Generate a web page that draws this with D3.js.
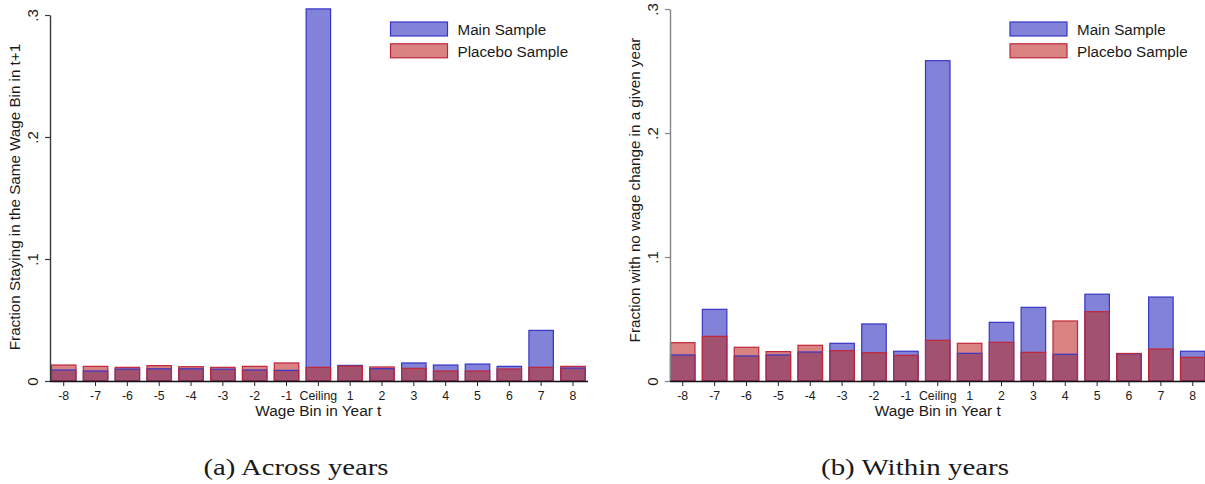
<!DOCTYPE html>
<html>
<head>
<meta charset="utf-8">
<script src="https://cdn.jsdelivr.net/npm/d3@7"></script>
<style>
  html, body { margin: 0; padding: 0; background: #fff; }
  svg { display: block; }
  text { font-family: "Liberation Sans", Arial, sans-serif; fill: #1a1a1a; }
  .caption { font-family: "Liberation Serif", "Times New Roman", serif; }
</style>
</head>
<body>
<svg id="fig" width="1205" height="484"></svg>
<script>
// Wage bins relative to the ceiling
const bins = ["-8", "-7", "-6", "-5", "-4", "-3", "-2", "-1", "Ceiling",
              "1", "2", "3", "4", "5", "6", "7", "8"];

// Panel (a): fraction staying in the same wage bin in t+1
const acrossMain    = [0.0090, 0.0082, 0.0098, 0.0100, 0.0100, 0.0097, 0.0090, 0.0087, 0.305,
                       0.0128, 0.0101, 0.0148, 0.0131, 0.0139, 0.0120, 0.0415, 0.0106];
const acrossPlacebo = [0.0131, 0.0120, 0.0112, 0.0126, 0.0117, 0.0112, 0.0120, 0.0148, 0.0112,
                       0.0122, 0.0115, 0.0104, 0.0082, 0.0082, 0.0098, 0.0112, 0.0120];

// Panel (b): fraction with no wage change in a given year
const withinMain    = [0.0210, 0.0578, 0.0202, 0.0210, 0.0234, 0.0304, 0.0460, 0.0240, 0.2583,
                       0.0223, 0.0473, 0.0594, 0.0215, 0.0700, 0.0220, 0.0677, 0.0240];
const withinPlacebo = [0.0309, 0.0360, 0.0272, 0.0237, 0.0288, 0.0245, 0.0228, 0.0207, 0.0328,
                       0.0304, 0.0312, 0.0231, 0.0484, 0.0559, 0.0222, 0.0258, 0.0191];

const yTicks = [0, 0.1, 0.2, 0.3];
const seriesNames = ["Main Sample", "Placebo Sample"];

// translucent fills: where both bars cover the same area the blend colour is shown
const mainStyle    = { fill: "#8282d8", stroke: "#3636c6" };
const placeboStyle = { fill: "#d88282", stroke: "#c0263a" };
const blendFill    = "#a2516f";

const svg = d3.select("#fig");

function fmtTick(v) {
  return v === 0 ? "0" : d3.format(".1f")(v).replace(/^0/, "");
}

function panel(opts) {
  const g = svg.append("g");

  const x = d3.scaleBand()
    .domain(bins)
    .range(opts.xRange)
    .paddingInner(0.2)
    .paddingOuter(0.1);

  const y = d3.scaleLinear()
    .domain([0, 0.3])
    .range(opts.yRange);

  const rows = bins.map((b, i) => ({ bin: b, main: opts.main[i], placebo: opts.placebo[i] }));
  const bx = d => x(d.bin) + 0.5;
  const bw = x.bandwidth() - 1;

  function fillLayer(key, fill) {
    g.append("g")
      .selectAll("rect")
      .data(rows)
      .join("rect")
      .attr("x", bx)
      .attr("y", d => y(key(d)))
      .attr("width", bw)
      .attr("height", d => y(0) - y(key(d)))
      .attr("fill", fill);
  }
  function outlineLayer(key, stroke) {
    g.append("g")
      .selectAll("rect")
      .data(rows)
      .join("rect")
      .attr("x", bx)
      .attr("y", d => y(key(d)))
      .attr("width", bw)
      .attr("height", d => y(0) - y(key(d)))
      .attr("fill", "none")
      .attr("stroke", stroke)
      .attr("stroke-width", 1.2);
  }

  fillLayer(d => d.main, mainStyle.fill);
  fillLayer(d => d.placebo, placeboStyle.fill);
  fillLayer(d => Math.min(d.main, d.placebo), blendFill);
  outlineLayer(d => d.main, mainStyle.stroke);
  outlineLayer(d => d.placebo, placeboStyle.stroke);

  // y axis
  const yAxis = g.append("g")
    .attr("transform", `translate(${opts.yAxisX},0)`)
    .call(d3.axisLeft(y).tickValues(yTicks).tickFormat(fmtTick).tickSize(5).tickSizeOuter(0));
  yAxis.select(".domain").attr("stroke", opts.yAxisColor).attr("stroke-width", 1.4);
  yAxis.selectAll(".tick line").attr("stroke", opts.yAxisColor).attr("stroke-width", 1.2);
  yAxis.selectAll(".tick text")
    .attr("transform", "rotate(-90)")
    .attr("x", 0)
    .attr("y", -12)
    .attr("dy", 0)
    .attr("text-anchor", "middle")
    .style("font-size", "15px")
    .attr("fill", "#1a1a1a");

  // x axis
  const xAxis = g.append("g")
    .attr("transform", `translate(0,${y(0)})`)
    .call(d3.axisBottom(x).tickSize(5).tickSizeOuter(0));
  xAxis.select(".domain")
    .attr("d", `M${opts.yAxisX},0.5H${opts.xAxisEnd}`)
    .attr("stroke", "#111")
    .attr("stroke-width", 1.4);
  xAxis.selectAll(".tick line").attr("stroke", "#222");
  xAxis.selectAll(".tick text")
    .attr("y", 19)
    .attr("dy", 0)
    .style("font-size", "12.3px")
    .attr("fill", "#1a1a1a");

  // axis titles
  g.append("text")
    .attr("x", x("Ceiling") + x.bandwidth() / 2)
    .attr("y", 416)
    .attr("text-anchor", "middle")
    .style("font-size", "15.4px")
    .text("Wage Bin in Year t");

  g.append("text")
    .attr("transform", `translate(${opts.yTitleX},${opts.yTitleY}) rotate(-90)`)
    .attr("text-anchor", "middle")
    .style("font-size", "15.2px")
    .text(opts.yTitle);

  // legend
  const leg = g.append("g").attr("transform", `translate(${opts.legendX},21.5)`);
  [mainStyle, placeboStyle].forEach((s, i) => {
    const row = leg.append("g").attr("transform", `translate(0,${i * 21.8})`);
    row.append("rect")
      .attr("x", 0.5).attr("y", 0.5)
      .attr("width", 57).attr("height", 14)
      .attr("fill", s.fill)
      .attr("stroke", s.stroke).attr("stroke-width", 1.2);
    row.append("text")
      .attr("x", 67.5)
      .attr("y", 13.3)
      .style("font-size", "15.2px")
      .text(seriesNames[i]);
  });

  // caption
  g.append("text")
    .attr("class", "caption")
    .attr("x", opts.captionX)
    .attr("y", 475)
    .attr("text-anchor", "middle")
    .attr("textLength", opts.captionWidth)
    .attr("lengthAdjust", "spacingAndGlyphs")
    .style("font-size", "23px")
    .text(opts.caption);
}

panel({
  main: acrossMain,
  placebo: acrossPlacebo,
  xRange: [47.8, 588.9],
  yRange: [381, 15],
  yAxisX: 50,
  xAxisEnd: 588,
  yAxisColor: "#3a3a3a",
  yTitle: "Fraction Staying in the Same Wage Bin in t+1",
  yTitleX: 19.5,
  yTitleY: 197,
  legendX: 390,
  caption: "(a) Across years",
  captionX: 296,
  captionWidth: 185
});

panel({
  main: withinMain,
  placebo: withinPlacebo,
  xRange: [666.8, 1208.7],
  yRange: [381, 9],
  yAxisX: 670,
  xAxisEnd: 1205,
  yAxisColor: "#858585",
  yTitle: "Fraction with no wage change in a given year",
  yTitleX: 639.5,
  yTitleY: 190,
  legendX: 1009.5,
  caption: "(b) Within years",
  captionX: 915,
  captionWidth: 188
});
</script>
</body>
</html>
